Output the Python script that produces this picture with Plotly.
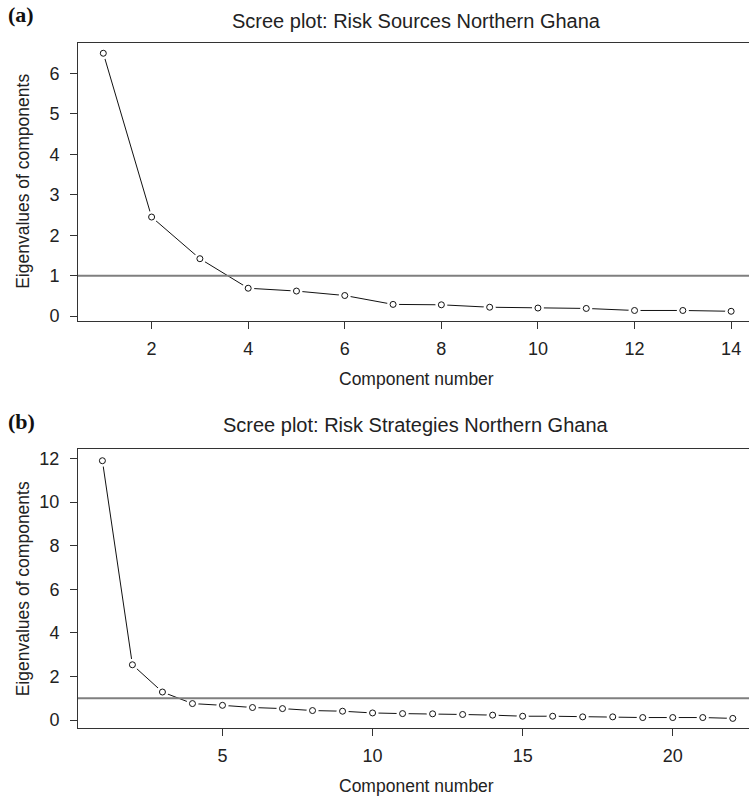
import plotly.graph_objects as go

# Data
comp_a = list(range(1, 15))
eig_a = [6.50, 2.45, 1.42, 0.69, 0.62, 0.51, 0.29, 0.28, 0.22, 0.20, 0.19, 0.14, 0.14, 0.12]
comp_b = list(range(1, 23))
eig_b = [11.90, 2.54, 1.29, 0.76, 0.68, 0.58, 0.53, 0.44, 0.41, 0.33, 0.30, 0.29, 0.26, 0.23,
         0.18, 0.18, 0.15, 0.15, 0.12, 0.12, 0.12, 0.08]
xticks_a = [2, 4, 6, 8, 10, 12, 14]
yticks_a = [0, 1, 2, 3, 4, 5, 6]
xticks_b = [5, 10, 15, 20]
yticks_b = [0, 2, 4, 6, 8, 10, 12]
titles = ["Scree plot: Risk Sources Northern Ghana", "Scree plot: Risk Strategies Northern Ghana"]
panel_labels = ["(a)", "(b)"]
x_title = "Component number"
y_title = "Eigenvalues of components"
ref_line = 1

W, H = 749, 802
FONT = "Liberation Sans, Arial, Helvetica, sans-serif"
TXT = "#222222"

fig = go.Figure()

def add_panel(x, y, xa, ya):
    fig.add_trace(go.Scatter(x=x, y=y, mode="lines", line=dict(color="#111111", width=1),
                             xaxis=xa, yaxis=ya, hoverinfo="skip", showlegend=False))
    fig.add_trace(go.Scatter(x=x, y=y, mode="markers",
                             marker=dict(symbol="circle", size=12, color="white", line=dict(width=0)),
                             xaxis=xa, yaxis=ya, hoverinfo="skip", showlegend=False))
    fig.add_trace(go.Scatter(x=x, y=y, mode="markers",
                             marker=dict(symbol="circle-open", size=6, color="#111111", line=dict(width=1)),
                             xaxis=xa, yaxis=ya, showlegend=False))

add_panel(comp_a, eig_a, "x", "y")
add_panel(comp_b, eig_b, "x2", "y2")

def py(p):
    return 1 - p / H

def px(p):
    return (p - 78) / (W - 78)

axis_common = dict(showgrid=False, zeroline=False, showline=True, linecolor="#333333", linewidth=1,
                   ticks="outside", ticklen=7, tickwidth=1, tickcolor="#333333",
                   tickfont=dict(family=FONT, size=18, color=TXT))

fig.update_layout(
    width=W, height=H,
    margin=dict(l=78, r=0, t=0, b=0),
    paper_bgcolor="white", plot_bgcolor="white",
    showlegend=False,
    xaxis=dict(domain=[0, 1], range=[0.476, 14.37], tickvals=xticks_a, mirror=True,
               anchor="y", ticklabelstandoff=4, **axis_common),
    yaxis=dict(domain=[py(323), py(43)], range=[-0.12, 6.76], tickvals=yticks_a,
               anchor="x", ticklabelstandoff=7, **axis_common),
    xaxis2=dict(domain=[0, 1], range=[0.187, 22.54], tickvals=xticks_b, mirror=True,
                anchor="y2", ticklabelstandoff=4, **axis_common),
    yaxis2=dict(domain=[py(733), py(452)], range=[-0.38, 12.43], tickvals=yticks_b,
                anchor="x2", ticklabelstandoff=7, **axis_common),
)

# Reference lines at eigenvalue = 1
for ya, xa in [("y", "x"), ("y2", "x2")]:
    fig.add_shape(type="line", xref=f"{xa} domain", x0=0, x1=1, yref=ya, y0=ref_line, y1=ref_line,
                  line=dict(color="#7f7f7f", width=2))

for i, (t, lab) in enumerate(zip(titles, panel_labels)):
    ty = [21, 428][i]
    fig.add_annotation(text=t, xref="paper", yref="paper", x=px(416), y=py(ty),
                       showarrow=False, font=dict(family=FONT, size=20, color=TXT),
                       xanchor="center", yanchor="middle")
    ly = [15, 424][i]
    fig.add_annotation(text=f"<b>{lab}</b>", xref="paper", yref="paper", x=px(6), y=py(ly),
                       showarrow=False, font=dict(family="Liberation Serif, Times New Roman, serif", size=22, color="#111111"),
                       xanchor="left", yanchor="middle")
    xty = [381, 791][i]
    fig.add_annotation(text=x_title, xref="paper", yref="paper", x=px(416), y=py(xty),
                       showarrow=False, font=dict(family=FONT, size=17.5, color=TXT),
                       xanchor="center", yanchor="middle")
    yty = [183, 593][i]
    fig.add_annotation(text=y_title, xref="paper", yref="paper", x=px(23), y=py(yty),
                       showarrow=False, textangle=-90, font=dict(family=FONT, size=17.5, color=TXT),
                       xanchor="center", yanchor="middle")

fig.write_html("out.html", config={"displayModeBar": False},
               post_script="document.body.style.margin='0';document.body.style.overflow='hidden';")
